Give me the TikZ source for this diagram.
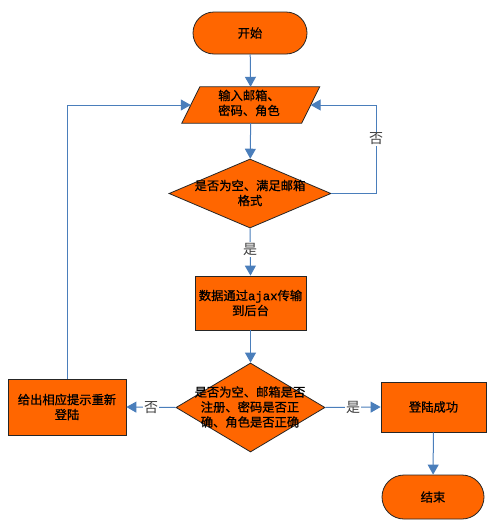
\documentclass[tikz,border=0pt]{standalone}
\usepackage{fontspec}
\setmainfont[FakeBold=0.8]{Noto Sans CJK SC}
\newfontfamily\labfont{Noto Sans CJK SC}
\newfontfamily\monofont[FakeBold=0.8]{Liberation Mono}
\usetikzlibrary{shapes.geometric,arrows.meta,calc}
\definecolor{orangeF}{HTML}{FF6600}
\definecolor{lineblue}{HTML}{4A7EBB}
\begin{document}
\begin{tikzpicture}[x=1pt,y=-1pt,
  txt/.style={font=\fontsize{12.3}{15}\selectfont, align=center, inner sep=0pt, text=black},
  box/.style={draw=black!85, line width=0.8pt, fill=orangeF, inner sep=0pt, txt},
  term/.style={box, rounded corners=21pt},
  dia/.style={diamond, draw=black!85, line width=0.8pt, fill=orangeF, inner sep=0pt, aspect=1},
  flow/.style={draw=lineblue, line width=1pt, -{Triangle[width=11pt,length=10pt]}},
  lbl/.style={fill=white, inner sep=1pt, font=\labfont\fontsize{14}{14}\selectfont, text=black!75}
]
\path[fill=white] (0,0) rectangle (500,525);
\useasboundingbox (0,0) rectangle (500,525);

\node[term, minimum width=114, minimum height=42] (start) at (250,33) {开始};

\node[inner sep=0pt, minimum width=119.5, minimum height=36] (in) at (250.75,105) {};
\draw[draw=black!85, line width=0.8pt, fill=orangeF]
  ($(in.south west)+(-9,0)$) -- ($(in.north west)+(9,0)$) -- ($(in.north east)+(9,0)$) -- ($(in.south east)+(-9,0)$) -- cycle;
\node[txt] (intext) at (249,103) {输入邮箱、\\密码、角色};

\node[dia, minimum width=162, minimum height=69] (d1) at (250,193.5) {};
\node[txt] (d1text) at (250,193) {是否为空、满足邮箱\\格式};

\node[box, minimum width=111, minimum height=54] (b2) at (250.5,303) {数据通过{\monofont ajax}传输\\到后台};

\node[dia, minimum width=149, minimum height=89] (d2) at (250.5,407.5) {};
\node[txt] (d2text) at (250,407) {是否为空、邮箱是否\\注册、密码是否正\\确、角色是否正确};

\node[box, minimum width=118, minimum height=56] (lb) at (67,407) {给出相应提示重新\\登陆};
\node[box, minimum width=105, minimum height=50] (rb) at (433.5,407) {登陆成功};
\node[term, minimum width=102, minimum height=44, rounded corners=22pt] (end) at (433,497) {结束};

\coordinate (cr) at (376,105);
\coordinate (cl) at (67,105);

\draw[flow] (start) -- (in);
\draw[flow] (in) -- (d1);
\draw[flow] (d1.south) -- node[lbl, pos=0.45] (yes1) {是} (b2.north);
\draw[flow] (b2) -- (d2);
\draw[flow] (d2.west) -- node[lbl] (no2) {否} (lb.east);
\draw[flow] (d2.east) -- node[lbl] (yes2) {是} (rb.west);
\draw[flow] (rb) -- (end);
\draw[flow] (d1.east) -| node[lbl, pos=0.81] (no1) {否} (cr) -- (in.east);
\draw[flow] (lb.north) -- (cl) -- (in.west);
\end{tikzpicture}
\end{document}
